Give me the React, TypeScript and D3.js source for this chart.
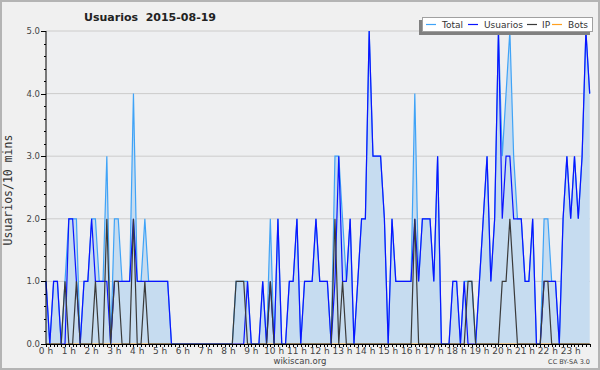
import React from "react";
import * as d3 from "d3";

const W = 600;
const H = 370;

const usuarios = [
  1,0,1,1,0,0,2,2,1,0,
  1,1,2,1,1,1,1,0,1,1,
  1,1,1,2,1,1,1,1,1,1,
  1,1,1,0,0,0,0,0,0,0,
  0,0,0,0,0,0,0,0,0,0,
  0,0,0,1,0,0,0,1,0,1,
  0,2,0,0,1,1,2,0,1,1,
  1,2,1,1,1,0,1,3,1,1,
  2,0,1,2,2,5,3,3,3,2,
  0,2,1,1,1,1,1,2,1,2,
  2,2,1,3,0,0,0,1,1,0,
  1,0,0,0,1,2,3,1,2,5,
  2,3,3,2,2,2,1,1,2,0,
  0,1,1,1,1,0,2,3,2,3,
  2,3,5,4,
];

const ip = [
  0,0,0,0,0,1,0,0,1,0,
  0,0,0,1,0,0,2,0,1,1,
  0,0,0,2,0,0,1,0,0,0,
  0,0,0,0,0,0,0,0,0,0,
  0,0,0,0,0,0,0,0,0,0,
  1,1,1,0,0,0,0,0,0,1,
  0,0,0,0,0,0,0,0,0,0,
  0,0,0,0,0,0,2,0,1,0,
  0,0,0,0,0,0,0,0,0,0,
  0,0,0,0,0,0,0,2,0,0,
  0,0,0,0,0,0,0,0,0,0,
  0,1,1,0,0,0,0,0,0,0,
  1,1,2,1,0,0,0,0,0,0,
  0,1,1,0,0,0,0,0,0,0,
  0,0,0,0,
];

const bots = usuarios.map(() => 0);
const total = usuarios.map((u, i) => u + ip[i] + bots[i]);

const hours = d3.range(24);
const hourLabels = hours.map((h) => `${h} h`);
const yTicks = [0, 1, 2, 3, 4, 5];
const yMinor = d3.range(0, 5.0001, 0.2);

const seriesNames = ["Total", "Usuarios", "IP", "Bots"];
const seriesColors = ["#3fa3f7", "#0a14ff", "#3a3a3a", "#ffa020"];

const title = "Usuarios  2015-08-19";
const yTitle = "Usuarios/10 mins";

export default function App() {
  const left = 46, right = 589.7, top = 31, bottom = 344;
  const x = d3.scaleLinear().domain([0, 143]).range([left, right]);
  const y = d3.scaleLinear().domain([0, 5]).range([bottom, top]);

  const line = d3.line<number>().x((_, i) => x(i)).y((d) => y(d));
  const area = d3.area<number>().x((_, i) => x(i)).y0(y(0)).y1((d) => y(d));

  const legendItems = [
    { name: seriesNames[0], color: seriesColors[0], lx: 426, tx: 442 },
    { name: seriesNames[1], color: seriesColors[1], lx: 468, tx: 484 },
    { name: seriesNames[2], color: seriesColors[2], lx: 527, tx: 542 },
    { name: seriesNames[3], color: seriesColors[3], lx: 552, tx: 568 },
  ];

  return (
    <svg
      width={W}
      height={H}
      style={{ position: "absolute", left: 0, top: 0 }}
      fontFamily="DejaVu Sans, sans-serif"
    >
      <rect x={0} y={0} width={W} height={H} fill="#f0f0f0" />
      <rect x={1} y={1} width={W - 2} height={H - 2} fill="none" stroke="#b4b4b4" strokeWidth={2} />
      <rect x={left} y={top} width={right - left} height={bottom - top} fill="#eeeff1" />

      {yTicks.slice(1).map((t) => (
        <line key={"g" + t} x1={left} x2={590} y1={y(t)} y2={y(t)} stroke="#cccccc" strokeWidth={1} />
      ))}

      <path d={area(total) || ""} fill="#c6dcf0" />
      <path d={line(bots) || ""} fill="none" stroke={seriesColors[3]} strokeWidth={1.2} />
      <path d={line(total) || ""} fill="none" stroke={seriesColors[0]} strokeWidth={1.2} />
      <path d={line(usuarios) || ""} fill="none" stroke={seriesColors[1]} strokeWidth={1.2} />
      <path d={line(ip) || ""} fill="none" stroke={seriesColors[2]} strokeWidth={1.2} />

      {/* Y axis */}
      <line x1={left} x2={left} y1={top} y2={bottom} stroke="#000" strokeWidth={1} />
      {yMinor.map((t, i) => (
        <line key={"ym" + i} x1={left - 2} x2={left} y1={Math.round(y(t)) + 0.5} y2={Math.round(y(t)) + 0.5} stroke="#000" />
      ))}
      {yTicks.map((t) => (
        <g key={"yt" + t}>
          <line x1={left - 5} x2={left} y1={Math.round(y(t)) + 0.5} y2={Math.round(y(t)) + 0.5} stroke="#000" />
          <text x={40} y={y(t) + 3} fontSize={8.5} textAnchor="end" fill="#444">
            {t.toFixed(1)}
          </text>
        </g>
      ))}

      {/* X axis */}
      <line x1={left} x2={590} y1={bottom + 0.5} y2={bottom + 0.5} stroke="#000" strokeWidth={1} />
      {d3.range(0, 144).map((i) => (
        <line key={"xt" + i} x1={Math.round(x(i)) + 0.5} x2={Math.round(x(i)) + 0.5} y1={bottom} y2={bottom + 3} stroke="#000" />
      ))}
      {hours.map((h, k) => (
        <text key={"xl" + h} x={x(h * 6)} y={354} fontSize={9} textAnchor="middle" fill="#444">
          {hourLabels[k]}
        </text>
      ))}

      <text x={150} y={21} fontSize={11} fontWeight="bold" textAnchor="middle" fill="#222" style={{ whiteSpace: "pre" }}>
        {title}
      </text>

      <text
        transform={`translate(12, 190) rotate(-90)`}
        fontSize={11.5}
        fontFamily="DejaVu Sans Mono, monospace"
        textAnchor="middle"
        fill="#333"
      >
        {yTitle}
      </text>

      <text x={300} y={364} fontSize={8.5} textAnchor="middle" fill="#444">wikiscan.org</text>
      <text x={590} y={364} fontSize={6.5} textAnchor="end" fill="#444">CC BY-SA 3.0</text>

      {/* Legend */}
      <rect x={419} y={20} width={171} height={15} fill="#808080" />
      <rect x={422.5} y={17.5} width={170} height={14} fill="#ffffff" stroke="#a0a0a0" />
      {legendItems.map((it) => (
        <g key={it.name}>
          <line x1={it.lx} x2={it.lx + 10} y1={24.5} y2={24.5} stroke={it.color} strokeWidth={1.2} />
          <text x={it.tx} y={28} fontSize={9} fill="#333">{it.name}</text>
        </g>
      ))}
    </svg>
  );
}
